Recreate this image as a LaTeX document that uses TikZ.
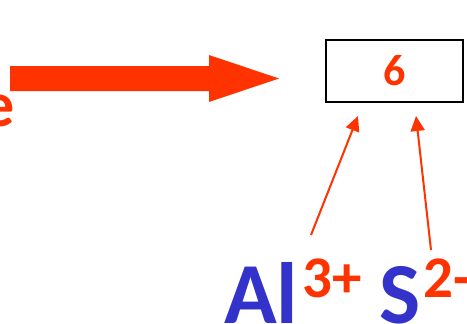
\documentclass[tikz,border=0pt]{standalone}
\usepackage{fontspec}
\setmainfont{Carlito}
\usetikzlibrary{arrows.meta}
\definecolor{ionred}{HTML}{FF3300}
\definecolor{ionblue}{HTML}{3333CC}
\tikzset{
    ion/.style={inner sep=0pt, text=ionblue, font=\bfseries\fontsize{87}{87}\selectfont},
    charge/.style={inner sep=0pt, text=ionred, font=\bfseries\fontsize{59}{59}\selectfont},
    pointer/.style={ionred, line width=2pt, -{Triangle[length=15pt,width=14pt]}}
}
\begin{document}
\begin{tikzpicture}[x=1pt, y=-1pt]
    \useasboundingbox (0,0) rectangle (467,324);
    \clip (0,0) rectangle (467,324);
    % 大箭头
    \fill[ionred] (10,66) -- (209,66) -- (209,55) -- (279,78.5) -- (209,102) -- (209,91) -- (10,91) -- cycle;
    \node[anchor=base east, inner sep=0pt, text=ionred, font=\bfseries\fontsize{64}{64}\selectfont] (e) at (15,126) {e};
    % 方框
    \node[draw, line width=2pt, minimum width=137pt, minimum height=62pt, inner sep=0pt,
          text=ionred, font=\bfseries\fontsize{44}{44}\selectfont] (box) at (394.5,70.5) {6};
    % 离子
    \node[ion, anchor=base west] (al) at (224,323) {Al};
    \node[charge, anchor=base west] (alq) at (302,297) {3+};
    \node[ion, anchor=base west] (s) at (379,323) {S};
    \node[charge, anchor=base west] (sq) at (423,297) {2-};
    % 箭头
    \coordinate (altail) at (311,235);
    \coordinate (stail) at (431,250);
    \coordinate (altip) at (358,116);
    \coordinate (stip) at (416,116);
    \draw[pointer] (altail) -- (altip);
    \draw[pointer] (stail) -- (stip);
\end{tikzpicture}
\end{document}
